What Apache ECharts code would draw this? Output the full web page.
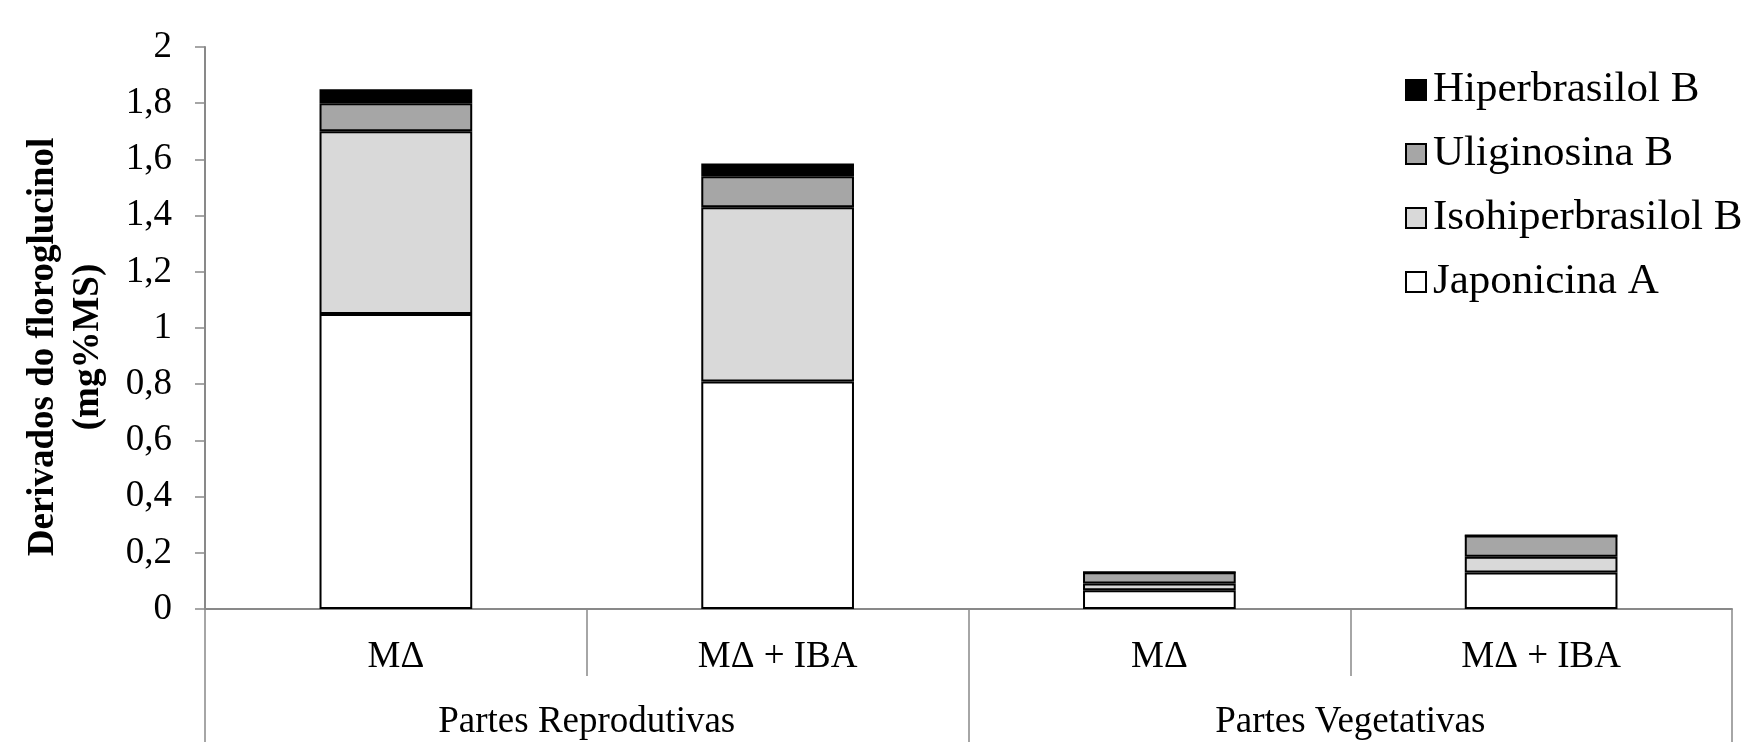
<!DOCTYPE html>
<html><head><meta charset="utf-8">
<script src="https://cdn.jsdelivr.net/npm/echarts@6/dist/echarts.min.js"></script>
<style>html,body{margin:0;padding:0;background:#fff}#c{width:1744px;height:742px}</style>
</head><body><div id="c"></div>
<script>
const categories = ['MΔ', 'MΔ + IBA', 'MΔ', 'MΔ + IBA'];
const groups = ['Partes Reprodutivas', 'Partes Vegetativas'];
const seriesNames = ['Japonicina A', 'Isohiperbrasilol B', 'Uliginosina B', 'Hiperbrasilol B'];
const japonicinaA = [1.05, 0.81, 0.067, 0.13];
const isohiperbrasilolB = [0.65, 0.62, 0.024, 0.056];
const uliginosinaB = [0.10, 0.11, 0.04, 0.076];
const hiperbrasilolB = [0.05, 0.045, 0, 0];
const legendOrder = ['Hiperbrasilol B', 'Uliginosina B', 'Isohiperbrasilol B', 'Japonicina A'];
const yTitle = 'Derivados do floroglucinol\n(mg%MS)';

const values = [japonicinaA, isohiperbrasilolB, uliginosinaB, hiperbrasilolB];
const colors = ['#ffffff', '#d9d9d9', '#a6a6a6', '#000000'];
const FONT = '"Liberation Serif", "Times New Roman", serif';
const AX = '#898989';

const chart = echarts.init(document.getElementById('c'), null, {renderer: 'canvas'});
chart.setOption({
  animation: false,
  backgroundColor: '#ffffff',
  textStyle: {fontFamily: FONT, color: '#000'},
  grid: {left: 205, right: 12, top: 47, bottom: 133, containLabel: false},
  legend: {
    orient: 'vertical', left: 1400, top: 63,
    data: legendOrder,
    icon: 'rect', itemWidth: 20, itemHeight: 20, itemGap: 20,
    textStyle: {fontFamily: FONT, fontSize: 43, color: '#000', lineHeight: 44, padding: [0, 0, 0, 2]}
  },
  xAxis: [
    {
      type: 'category', data: categories, position: 'bottom',
      axisLine: {show: true, lineStyle: {color: AX, width: 2}},
      axisTick: {show: true, interval: 0, length: 67, lineStyle: {color: AX, width: 1.5}},
      axisLabel: {interval: 0, margin: 30, fontFamily: FONT, fontSize: 37, color: '#000'}
    },
    {
      type: 'category', data: groups, position: 'bottom',
      axisLine: {show: false},
      axisTick: {show: true, interval: 0, length: 133, lineStyle: {color: AX, width: 1.5}},
      axisLabel: {interval: 0, margin: 95, fontFamily: FONT, fontSize: 37, color: '#000'}
    }
  ],
  yAxis: {
    type: 'value', min: 0, max: 2, interval: 0.2,
    name: yTitle, nameLocation: 'middle', nameRotate: 90, nameGap: 94,
    nameTextStyle: {fontFamily: FONT, fontSize: 37, fontWeight: 'bold', color: '#000', lineHeight: 45, align: 'center', padding: [0, 38, 0, 0]},
    axisLine: {show: true, lineStyle: {color: AX, width: 2}},
    axisTick: {show: true, length: 10, lineStyle: {color: AX, width: 1.5}},
    splitLine: {show: false},
    axisLabel: {margin: 33, fontFamily: FONT, fontSize: 37, color: '#000',
      formatter: v => String(Math.round(v * 10) / 10).replace('.', ',')}
  },
  series: seriesNames.map((n, i) => ({
    name: n, type: 'bar', stack: 'total', xAxisIndex: 0,
    barWidth: '40%',
    data: values[i],
    itemStyle: {color: colors[i], borderColor: '#000', borderWidth: 2}
  }))
});
</script></body></html>
